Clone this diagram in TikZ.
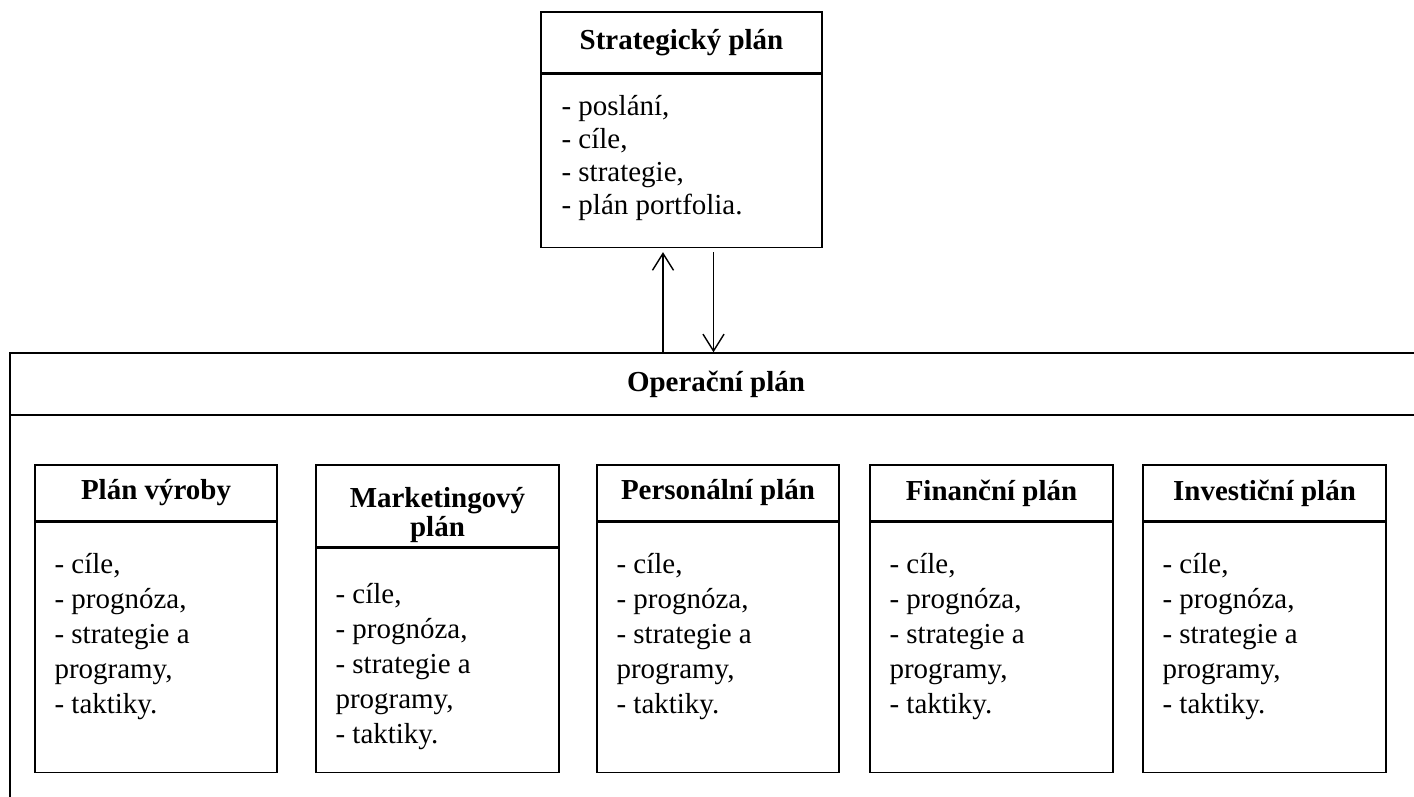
\documentclass[tikz,border=0pt]{standalone}
\usepackage{fontspec}
\setmainfont{Liberation Serif}
\usepackage{tikz}
\usetikzlibrary{positioning,arrows.meta}

\tikzset{
  frame/.style={draw, line width=1pt, inner sep=0pt},
  title/.style={font=\bfseries\fontsize{20.6}{20.6}\selectfont, align=center},
  head/.style={frame, title},
  items/.style={font=\fontsize{20.6}{24.9}\selectfont, align=left, inner sep=0pt},
  flow/.style={line width=1pt, -{Straight Barb[length=12pt, width=15pt]}},
}

\begin{document}
\begin{tikzpicture}[x=0.025cm, y=-0.025cm]
            \def\pxu{0.025cm}
            \useasboundingbox (0,0) rectangle (1414,796);
            \clip (0,0) rectangle (1414,796);
            
            % strategic plan on top
            \node (StratHead) at (681.5,42.5) [head, minimum width=281*\pxu, minimum height=61*\pxu] {Strategický plán};
            \node (Strat) [frame, below=0pt of StratHead, minimum width=281*\pxu, minimum height=173*\pxu] {};
            \node (StratList) [items, font=\fontsize{20.6}{23.5}\selectfont, below right=21*\pxu and 21*\pxu of Strat.north west] {- poslání,\\- cíle,\\- strategie,\\- plán portfolia.};
            
            % operational plan, runs off the page
            \node (Oper) at (716,586.5) [frame, minimum width=1412*\pxu, minimum height=467*\pxu] {};
            \node (OperHead) [head, below=0pt of Oper.north, minimum width=1412*\pxu, minimum height=62*\pxu] {Operační plán};
            
            \node (VyrobaHead) at (156,493) [head, minimum width=242*\pxu, minimum height=56*\pxu] {Plán výroby};
            \node (Vyroba) [frame, below=0pt of VyrobaHead, minimum width=242*\pxu, minimum height=250*\pxu] {};
            \node (VyrobaList) [items, below right=31*\pxu and 20*\pxu of Vyroba.north west] {- cíle,\\- prognóza,\\- strategie a\\programy,\\- taktiky.};
            
            \node (MarketHead) at (437.5,506) [frame, minimum width=243*\pxu, minimum height=82*\pxu] {};
            \node (MarketTitle) at ([yshift=-9*\pxu]MarketHead.center) [title] {Marketingový\\plán};
            \node (Market) [frame, below=0pt of MarketHead, minimum width=243*\pxu, minimum height=224*\pxu] {};
            \node (MarketList) [items, below right=35*\pxu and 20*\pxu of Market.north west] {- cíle,\\- prognóza,\\- strategie a\\programy,\\- taktiky.};
            
            \node (PersonHead) at (718,493) [head, minimum width=242*\pxu, minimum height=56*\pxu] {Personální plán};
            \node (Person) [frame, below=0pt of PersonHead, minimum width=242*\pxu, minimum height=250*\pxu] {};
            \node (PersonList) [items, below right=31*\pxu and 20*\pxu of Person.north west] {- cíle,\\- prognóza,\\- strategie a\\programy,\\- taktiky.};
            
            \node (FinHead) at (991.5,493) [head, minimum width=243*\pxu, minimum height=56*\pxu] {Finanční plán};
            \node (Fin) [frame, below=0pt of FinHead, minimum width=243*\pxu, minimum height=250*\pxu] {};
            \node (FinList) [items, below right=31*\pxu and 20*\pxu of Fin.north west] {- cíle,\\- prognóza,\\- strategie a\\programy,\\- taktiky.};
            
            \node (InvestHead) at (1264.5,493) [head, minimum width=243*\pxu, minimum height=56*\pxu] {Investiční plán};
            \node (Invest) [frame, below=0pt of InvestHead, minimum width=243*\pxu, minimum height=250*\pxu] {};
            \node (InvestList) [items, below right=31*\pxu and 20*\pxu of Invest.north west] {- cíle,\\- prognóza,\\- strategie a\\programy,\\- taktiky.};
            
            % arrows between the two plans
            \coordinate (UpEnd) at ([xshift=-18.5*\pxu, yshift=-4*\pxu]Strat.south);
            \coordinate (DownStart) at ([xshift=32*\pxu, yshift=-4*\pxu]Strat.south);
            \draw [flow] (UpEnd |- Oper.north) -- (UpEnd);
            \draw [flow] (DownStart) -- (DownStart |- Oper.north);
        \end{tikzpicture}
\end{document}
